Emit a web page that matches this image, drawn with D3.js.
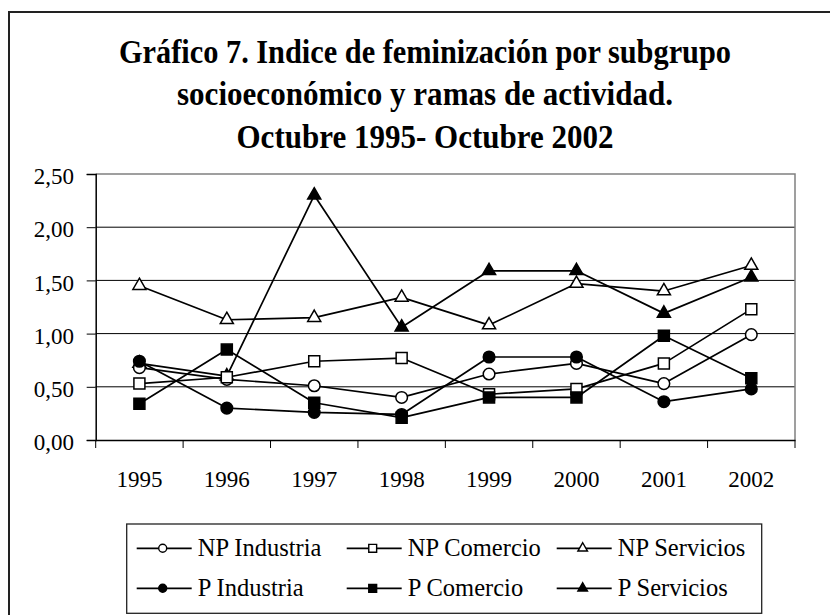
<!DOCTYPE html>
<html>
<head>
<meta charset="utf-8">
<script src="https://cdn.jsdelivr.net/npm/d3@7"></script>
<style>
  html, body { margin: 0; padding: 0; background: #fff; }
  svg { display: block; }
  text { font-family: "Liberation Serif", "Times New Roman", serif; fill: #000; }
</style>
</head>
<body>
<svg id="chart" width="830" height="615"></svg>
<script>
// ---- data ----
const years = ["1995", "1996", "1997", "1998", "1999", "2000", "2001", "2002"];
const npIndustria  = [0.68, 0.57, 0.51, 0.40, 0.62, 0.72, 0.53, 0.99];
const npComercio   = [0.53, 0.59, 0.74, 0.77, 0.43, 0.48, 0.72, 1.23];
const npServicios  = [1.45, 1.13, 1.15, 1.34, 1.08, 1.47, 1.40, 1.64];
const pIndustria   = [0.74, 0.30, 0.26, 0.24, 0.78, 0.78, 0.36, 0.48];
const pComercio    = [0.34, 0.85, 0.35, 0.21, 0.40, 0.40, 0.98, 0.58];
const pServicios   = [0.72, 0.60, 2.30, 1.06, 1.59, 1.59, 1.19, 1.53];
const seriesNames  = ["NP Industria", "NP Comercio", "NP Servicios", "P Industria", "P Comercio", "P Servicios"];
const yTicks = [0, 0.5, 1, 1.5, 2, 2.5];
const titleLines = [
  "Gráfico 7. Indice de feminización por subgrupo",
  "socioeconómico y ramas de actividad.",
  "Octubre 1995- Octubre 2002"
];

(function () {
// ---- series table ----
const series = [
  { name: seriesNames[0], values: npIndustria, shape: d3.symbolCircle,   filled: false },
  { name: seriesNames[1], values: npComercio,  shape: d3.symbolSquare,   filled: false },
  { name: seriesNames[2], values: npServicios, shape: d3.symbolTriangle, filled: false },
  { name: seriesNames[3], values: pIndustria,  shape: d3.symbolCircle,   filled: true },
  { name: seriesNames[4], values: pComercio,   shape: d3.symbolSquare,   filled: true },
  { name: seriesNames[5], values: pServicios,  shape: d3.symbolTriangle, filled: true }
];
const markerSize = s => s === d3.symbolCircle ? 106 : s === d3.symbolSquare ? 121 : 74;
const legendMarkerSize = s => s === d3.symbolCircle ? 50 : s === d3.symbolSquare ? 62 : 40;

const svg = d3.select("#chart");

// outer border
svg.append("rect")
  .attr("x", 9).attr("y", 12).attr("width", 840).attr("height", 640)
  .attr("fill", "none").attr("stroke", "#222").attr("stroke-width", 2);

// title
const titleBaselines = [63.3, 105, 148.3];
const titleWidths = [612, 496, 377];
svg.selectAll("text.title").data(titleLines).enter().append("text")
  .attr("class", "title")
  .attr("x", 425)
  .attr("y", (d, i) => titleBaselines[i])
  .attr("text-anchor", "middle")
  .attr("font-size", 34)
  .attr("font-weight", "bold")
  .attr("textLength", (d, i) => titleWidths[i])
  .attr("lengthAdjust", "spacingAndGlyphs")
  .text(d => d);

// scales
const pLeft = 95.7, pRight = 795, pTop = 174, pBottom = 440;
const x = d3.scaleBand().domain(years).range([pLeft, pRight]).padding(0);
const cx = d => x(d) + x.bandwidth() / 2;
const y = d3.scaleLinear().domain([0, 2.5]).range([pBottom, pTop]);

// gridlines
svg.append("g").selectAll("line").data(yTicks.filter(v => v > 0 && v < 2.5)).enter()
  .append("line")
  .attr("x1", pLeft).attr("x2", pRight)
  .attr("y1", d => y(d)).attr("y2", d => y(d))
  .attr("stroke", "#000").attr("stroke-width", 1);

// plot frame (top and right in gray)
svg.append("path")
  .attr("d", `M${pLeft},${y(2.5)}H${pRight}V${y(0)}`)
  .attr("fill", "none").attr("stroke", "#808080").attr("stroke-width", 1.5);

// y axis
const fmt = d3.formatLocale({ decimal: ",", thousands: ".", grouping: [3], currency: ["", ""] }).format(".2f");
const yAxis = svg.append("g")
  .attr("transform", `translate(${pLeft},0)`)
  .call(d3.axisLeft(y).tickValues(yTicks).tickFormat(fmt).tickSize(9).tickPadding(12.7));
yAxis.select(".domain").attr("stroke", "#000").attr("stroke-width", 1.5);
yAxis.selectAll(".tick line").attr("stroke", "#000").attr("stroke-width", 1);
yAxis.selectAll(".tick text")
  .attr("font-family", "Liberation Serif, Times New Roman, serif")
  .attr("font-size", 23).attr("dy", "0.42em");

// x axis
const xAxis = svg.append("g")
  .attr("transform", `translate(0,${pBottom})`)
  .call(d3.axisBottom(x).tickSize(0).tickPadding(0));
xAxis.select(".domain").attr("stroke", "#000").attr("stroke-width", 1.5);
xAxis.selectAll(".tick text")
  .attr("font-family", "Liberation Serif, Times New Roman, serif")
  .attr("font-size", 23).attr("y", 47).attr("dy", 0);
// boundary tick marks
const bounds = years.map(d => x(d)).concat([x.range()[1]]);
xAxis.append("g").selectAll("line").data(bounds).enter().append("line")
  .attr("x1", d => d).attr("x2", d => d)
  .attr("y1", 0).attr("y2", 8)
  .attr("stroke", "#000").attr("stroke-width", 1);

// series (P Servicios drawn underneath)
const drawOrder = [5, 0, 1, 2, 3, 4];
const line = d3.line().x((d, i) => cx(years[i])).y(d => y(d));
const plot = svg.append("g");
drawOrder.forEach(k => {
  const s = series[k];
  const g = plot.append("g");
  g.append("path")
    .attr("d", line(s.values))
    .attr("fill", "none").attr("stroke", "#000").attr("stroke-width", 1.7)
    .attr("stroke-linejoin", "round");
  g.selectAll("path.m").data(s.values).enter().append("path")
    .attr("class", "m")
    .attr("transform", (d, i) => `translate(${cx(years[i])},${y(d)})`)
    .attr("d", d3.symbol().type(s.shape).size(markerSize(s.shape)))
    .attr("fill", s.filled ? "#000" : "#fff")
    .attr("stroke", "#000").attr("stroke-width", 1.5);
});

// legend
const legend = svg.append("g");
legend.append("rect")
  .attr("x", 126.7).attr("y", 524).attr("width", 635).attr("height", 89.3)
  .attr("fill", "#fff").attr("stroke", "#222").attr("stroke-width", 1.3);
const rowBase = [556, 596];
series.forEach((s, i) => {
  const col = i % 3, row = Math.floor(i / 3);
  const x0 = 136.7 + col * 210;
  const ly = rowBase[row] - 7.7;
  const g = legend.append("g");
  g.append("line")
    .attr("x1", x0).attr("x2", x0 + 55)
    .attr("y1", ly).attr("y2", ly)
    .attr("stroke", "#000").attr("stroke-width", 1.7);
  g.append("path")
    .attr("transform", `translate(${x0 + 26},${ly})`)
    .attr("d", d3.symbol().type(s.shape).size(legendMarkerSize(s.shape)))
    .attr("fill", s.filled ? "#000" : "#fff")
    .attr("stroke", "#000").attr("stroke-width", 1.4);
  g.append("text")
    .attr("x", x0 + 61).attr("y", rowBase[row])
    .attr("font-size", 24.5)
    .text(s.name);
});
})();
</script>
</body>
</html>
